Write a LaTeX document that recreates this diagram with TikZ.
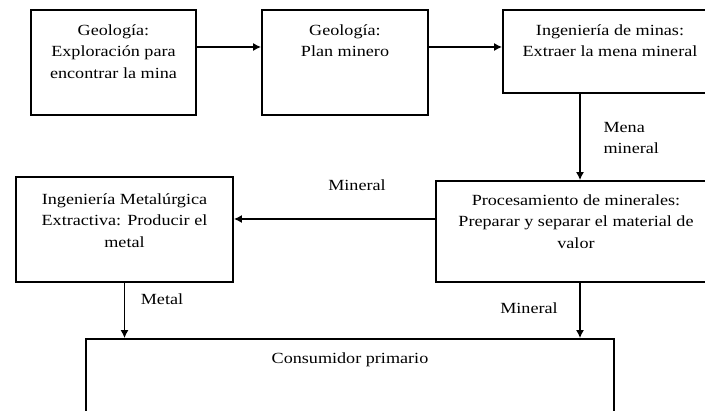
\documentclass[tikz,border=0pt]{standalone}
\usepackage{fontspec}
\setmainfont[FakeStretch=1.17]{Liberation Serif}
\usetikzlibrary{arrows.meta, positioning}
\tikzset{
	caja/.style={draw, line width=1.8pt, inner sep=0pt},
	texto/.style={align=center, font=\fontsize{15.5}{21.5}\selectfont},
	flecha/.style={line width=1.4pt, ->}
}

\begin{document}
\begin{tikzpicture}[x=1pt, y=-1pt, >={Latex[length=8pt,width=8pt]}]
	\clip (0,0) rectangle (705,411);
	%%%	Cajas
	% Geologia
	\node[caja, minimum width=165pt, minimum height=105pt] (expl) at (113.5,62.5) {};
	\node[texto, below=12pt of expl.north] (explT) {Geología:\\Exploración para\\encontrar la mina};
	\node[caja, minimum width=166pt, minimum height=105pt] (plan) at (345,62.5) {};
	\node[texto, below=12pt of plan.north] (planT) {Geología:\\Plan minero};
	% Minas
	\node[caja, minimum width=214pt, minimum height=83pt] (minas) at (610,51.5) {};
	\node[texto, below=12pt of minas.north] (minasT) {Ingeniería de minas:\\Extraer la mena mineral};
	% Procesamiento
	\node[caja, minimum width=280pt, minimum height=101pt] (proc) at (576,231.5) {};
	\node[texto, below=11pt of proc.north] (procT) {Procesamiento de minerales:\\Preparar y separar el material de\\valor};
	% Metalurgia
	\node[caja, minimum width=217pt, minimum height=105pt] (met) at (124.5,229.5) {};
	\node[texto, below=14pt of met.north] (metT) {Ingeniería Metalúrgica\\Extractiva: Producir el\\metal};
	% Consumidor
	\node[caja, minimum width=528pt, minimum height=91pt] (cons) at (350,384.5) {};
	\node[texto, below=11pt of cons.north] (consT) {Consumidor primario};
	
	%%%	Flechas
	\draw[flecha] ([yshift=15.5pt]expl.east) -- ([yshift=15.5pt]plan.west);
	\draw[flecha] ([yshift=15.5pt]plan.east) -- ([yshift=15.5pt]plan.east -| minas.west);
	\draw[flecha] ([xshift=-30pt]minas.south) -- ([xshift=-30pt]minas.south |- proc.north);
	\draw[flecha] ([yshift=12.5pt]proc.west) -- ([yshift=12.5pt]proc.west -| met.east);
	\draw[flecha] (met.south) -- (met.south |- cons.north);
	\draw[flecha] ([xshift=4pt]proc.south) -- ([xshift=4pt]proc.south |- cons.north);
	
	% Etiquetas
	\node[texto, align=left, anchor=west] (mena) at (600,138) {Mena\\mineral};
	\node[texto] (minA) at (357,185) {Mineral};
	\node[texto] (metal) at (162,299) {Metal};
	\node[texto] (minB) at (529,308) {Mineral};
	
\end{tikzpicture}
\end{document}
